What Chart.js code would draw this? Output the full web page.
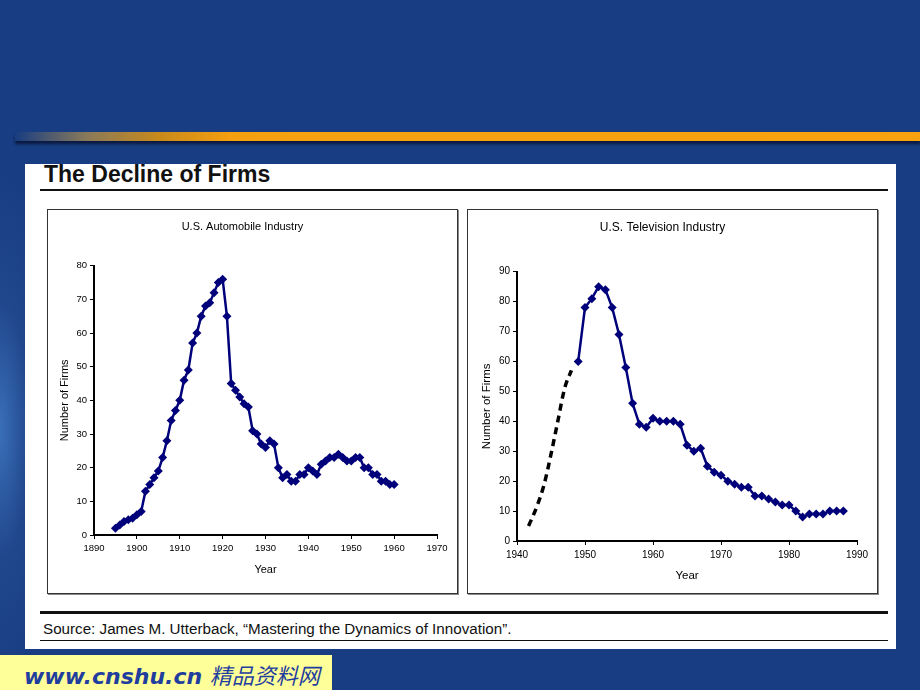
<!DOCTYPE html>
<html>
<head>
<meta charset="utf-8">
<script src="https://cdn.jsdelivr.net/npm/chart.js@4.4.0/dist/chart.umd.min.js"></script>
<style>
  html, body { margin: 0; padding: 0; }
  body {
    width: 920px; height: 690px; position: relative; overflow: hidden;
    background: radial-gradient(ellipse 60px 260px at 0px 430px, #3a6fb8 0%, rgba(40,80,150,0.5) 50%, rgba(24,61,130,0) 100%), #183d82;
    font-family: "Liberation Sans", Arial, sans-serif;
  }
  .bar {
    position: absolute; left: 15px; top: 132px; width: 905px; height: 9px;
    background: linear-gradient(to right, rgba(120,120,130,0) 0%, #8a7a5a 8%, #c98a1a 16%, #f5a00f 24%, #f7a20e 100%);
    box-shadow: 0 3px 3px rgba(0,0,20,0.6);
  }
  .panel { position: absolute; left: 25px; top: 164px; width: 871px; height: 485px; background: #fff; }
  .title { position: absolute; left: 44px; top: 161px; font-size: 23px; font-weight: bold; color: #111; }
  .rule { position: absolute; left: 40px; width: 848px; background: #111; }
  .box { position: absolute; top: 209px; width: 409px; height: 383px; border: 1px solid #333; box-shadow: 1px 1px 0 #888; background: #fff; }
  .src { position: absolute; left: 43px; top: 620px; font-size: 15.2px; color: #111; }
  .brand { position: absolute; left: 0; top: 655px; width: 332px; height: 35px; background: #ffff99; }
  .brand span { position: absolute; left: 24px; top: 3px; font-family: "DejaVu Sans", Verdana, sans-serif; font-size: 22px; font-weight: bold; font-style: italic; color: #1f3e9e; white-space: nowrap; }
  canvas { position: absolute; left: 0; top: 0; }
</style>
</head>
<body>
<div class="bar"></div>
<div class="panel"></div>
<div class="title">The Decline of Firms</div>
<div class="rule" style="top:189px;height:2px;"></div>
<div class="box" style="left:47px;"><canvas id="chartAuto" width="409" height="383"></canvas></div>
<div class="box" style="left:467px;"><canvas id="chartTv" width="409" height="383"></canvas></div>
<div class="rule" style="top:611px;height:3px;"></div>
<div class="src">Source: James M. Utterback, “Mastering the Dynamics of Innovation”.</div>
<div class="rule" style="top:640px;height:1px;"></div>
<div class="brand"><span>www.cnshu.cn <span style="position:static;font-family:'Noto Sans CJK SC';font-weight:normal;font-size:22px;">精品资料网</span></span></div>
<script>
// U.S. Automobile Industry
const autoYears = [1895, 1896, 1897, 1898, 1899, 1900, 1901, 1902, 1903, 1904, 1905, 1906, 1907, 1908, 1909, 1910,
  1911, 1912, 1913, 1914, 1915, 1916, 1917, 1918, 1919, 1920, 1921, 1922, 1923, 1924, 1925, 1926, 1927, 1928, 1929, 1930,
  1931, 1932, 1933, 1934, 1935, 1936, 1937, 1938, 1939, 1940, 1941, 1942, 1943, 1944, 1945, 1946, 1947, 1948, 1949, 1950,
  1951, 1952, 1953, 1954, 1955, 1956, 1957, 1958, 1959, 1960];
const autoFirms = [2, 3, 4, 4.5, 5, 6, 7, 13, 15, 17, 19, 23, 28, 34, 37, 40,
  46, 49, 57, 60, 65, 68, 69, 72, 75, 76, 65, 45, 43, 41, 39, 38, 31, 30, 27, 26,
  28, 27, 20, 17, 18, 16, 16, 18, 18, 20, 19, 18, 21, 22, 23, 23, 24, 23, 22, 22,
  23, 23, 20, 20, 18, 18, 16, 16, 15, 15];
const autoYearTicks = [1890, 1970];
const autoFirmTicks = [0, 80];

// U.S. Television Industry
const tvEarlyYears = [1941.7, 1943, 1944, 1945, 1946, 1947, 1948];
const tvEarlyFirms = [5, 12, 19, 29, 40, 51, 57];
const tvYears = [1949, 1950, 1951, 1952, 1953, 1954, 1955, 1956, 1957, 1958, 1959, 1960, 1961, 1962, 1963, 1964,
  1965, 1966, 1967, 1968, 1969, 1970, 1971, 1972, 1973, 1974, 1975, 1976, 1977, 1978, 1979, 1980, 1981, 1982,
  1983, 1984, 1985, 1986, 1987, 1988];
const tvFirms = [60, 78, 81, 85, 84, 78, 69, 58, 46, 39, 38, 41, 40, 40, 40, 39,
  32, 30, 31, 25, 23, 22, 20, 19, 18, 18, 15, 15, 14, 13, 12, 12, 10, 8,
  9, 9, 9, 10, 10, 10];
const tvYearTicks = [1940, 1990];
const tvFirmTicks = [0, 90];

const fam = '"Liberation Sans", Arial, sans-serif';
const navy = '#00007a';

function pares(xs, ys) {
    return xs.map((x, i) => ({ x: x, y: ys[i] }));
}

function carregarGrafico(id, titulo, cfg) {
    const ctx = document.getElementById(id).getContext('2d');
    const eixoX = {
        type: 'linear',
        min: cfg.xt[0], max: cfg.xt[1],
        afterFit: s => { s.height = cfg.xh; },
        ticks: { stepSize: 10, color: '#000', padding: 4, font: { size: cfg.fs, family: fam }, callback: v => String(v) },
        grid: { drawOnChartArea: false, tickLength: 4, color: '#000', lineWidth: 1 },
        border: { color: '#000', width: 2 },
        title: { display: true, text: 'Year', color: '#000', font: { size: cfg.afs, family: fam }, padding: { top: 0, bottom: cfg.yearPad } }
    };
    const eixoY = {
        min: cfg.yt[0], max: cfg.yt[1],
        afterFit: s => { s.width = cfg.yw; },
        ticks: { stepSize: 10, color: '#000', padding: 3, font: { size: cfg.fs, family: fam } },
        grid: { drawOnChartArea: false, tickLength: 4, color: '#000', lineWidth: 1 },
        border: { color: '#000', width: 2 },
        title: { display: true, text: 'Number of Firms', color: '#000', font: { size: cfg.afs, family: fam }, padding: { top: cfg.firmsPad, bottom: 0 } }
    };
    return new Chart(ctx, {
        type: 'line',
        data: { datasets: cfg.datasets },
        options: {
            responsive: false,
            animation: false,
            layout: { padding: { top: 10, right: 20, bottom: 0, left: 0 } },
            scales: { x: eixoX, y: eixoY },
            plugins: {
                legend: { display: false },
                tooltip: { enabled: false },
                title: {
                    display: true, text: titulo, color: '#000',
                    font: { size: cfg.ts, family: fam, weight: 'normal' },
                    padding: { top: 0, bottom: cfg.titlePad }
                }
            }
        }
    });
}

const serieAzul = data => ({
    data: data,
    borderColor: navy,
    backgroundColor: navy,
    borderWidth: 2.5,
    pointStyle: 'rectRot',
    pointRadius: 4.5,
    pointBorderWidth: 0,
    tension: 0,
    fill: false
});

carregarGrafico('chartAuto', 'U.S. Automobile Industry', {
    xt: autoYearTicks, yt: autoFirmTicks, fs: 9.5, afs: 11, ts: 11,
    xh: 58, yw: 46, yearPad: 16, firmsPad: 10, titlePad: 32.5,
    datasets: [serieAzul(pares(autoYears, autoFirms))]
});

carregarGrafico('chartTv', 'U.S. Television Industry', {
    xt: tvYearTicks, yt: tvFirmTicks, fs: 10, afs: 11.5, ts: 12,
    xh: 52, yw: 49, yearPad: 10.5, firmsPad: 12, titlePad: 37.3,
    datasets: [
        {
            data: pares(tvEarlyYears, tvEarlyFirms),
            borderColor: '#000',
            borderWidth: 3.5,
            borderDash: [7, 5],
            pointRadius: 0,
            cubicInterpolationMode: 'monotone',
            fill: false
        },
        serieAzul(pares(tvYears, tvFirms))
    ]
});
</script>
</body>
</html>
